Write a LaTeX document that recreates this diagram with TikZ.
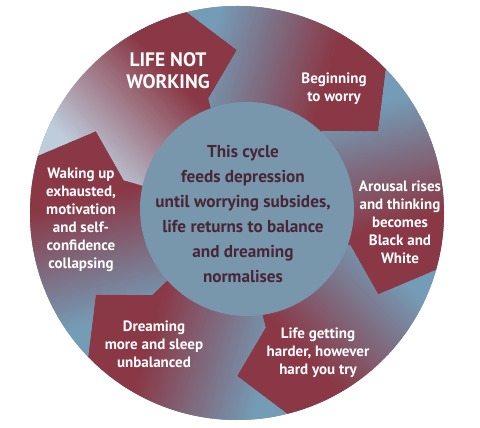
\documentclass[tikz,border=0pt]{standalone}
\usepackage{fontspec}
\setmainfont{PT Sans}
\definecolor{segred}{RGB}{138,56,70}
\definecolor{segblue}{RGB}{116,156,182}
\definecolor{lightblue}{RGB}{190,205,220}
\definecolor{innerblue}{RGB}{120,151,172}
\definecolor{centertext}{RGB}{72,38,54}
\tikzset{
  segtext/.style={text=white, font=\bfseries\fontsize{15}{18}\selectfont, align=center, inner sep=0pt},
  bigtext/.style={text=white, font=\bfseries\fontsize{19.5}{22}\selectfont, align=center, inner sep=0pt},
  centretext/.style={text=centertext, font=\bfseries\fontsize{17.2}{25}\selectfont, align=center, inner sep=0pt}
}
\begin{document}
\begin{tikzpicture}[x=1pt,y=1pt]
\useasboundingbox (-237,-215) rectangle (243,213);
\fill[white] (-237,-215) rectangle (243,213);
\fill[segblue] (0,0) circle (207);
\foreach \i/\tc in {0/lightblue,1/segblue,2/segblue,3/segblue,4/segblue,5/segblue}{
  \pgfmathsetmacro{\a}{104-60*\i}
  \begin{scope}
    \clip ({\a+60}:207) arc[start angle=\a+60, end angle=\a, radius=207]
      -- ({\a-14}:163) -- ({\a}:118) -- ({\a}:40)
      arc[start angle=\a, end angle=\a+60, radius=40]
      -- ({\a+60}:118) -- ({\a+46}:163) -- cycle;
    \begin{scope}[rotate=\a-60]
      \foreach \x in {-120,-118,...,130}{
        \pgfmathsetmacro{\s}{max(0,min(100,(\x+72)/122*100))}
        \fill[segred!\s!\tc] (\x-1.4,-260) rectangle (\x+1.4,260);
      }
    \end{scope}
  \end{scope}
}
\fill[innerblue] (10,4) circle (107);
\node[bigtext] (lnw) at (-69,142) {LIFE NOT\\WORKING};
\node[segtext] (btw) at (97,124) {Beginning\\to worry};
\node[segtext] (ar) at (163,-9) {Arousal rises\\and thinking\\becomes\\Black and\\White};
\node[segtext] (lg) at (81,-140) {Life getting\\harder, however\\hard you try};
\node[segtext] (dm) at (-83,-131) {Dreaming\\more and sleep\\unbalanced};
\node[segtext] (wu) at (-156,-7) {Waking up\\exhausted,\\motivation\\and self-\\confidence\\collapsing};
\node[centretext] (ct) at (6,-1) {This cycle\\feeds depression\\until worrying subsides,\\life returns to balance\\and dreaming\\normalises};
\end{tikzpicture}
\end{document}
